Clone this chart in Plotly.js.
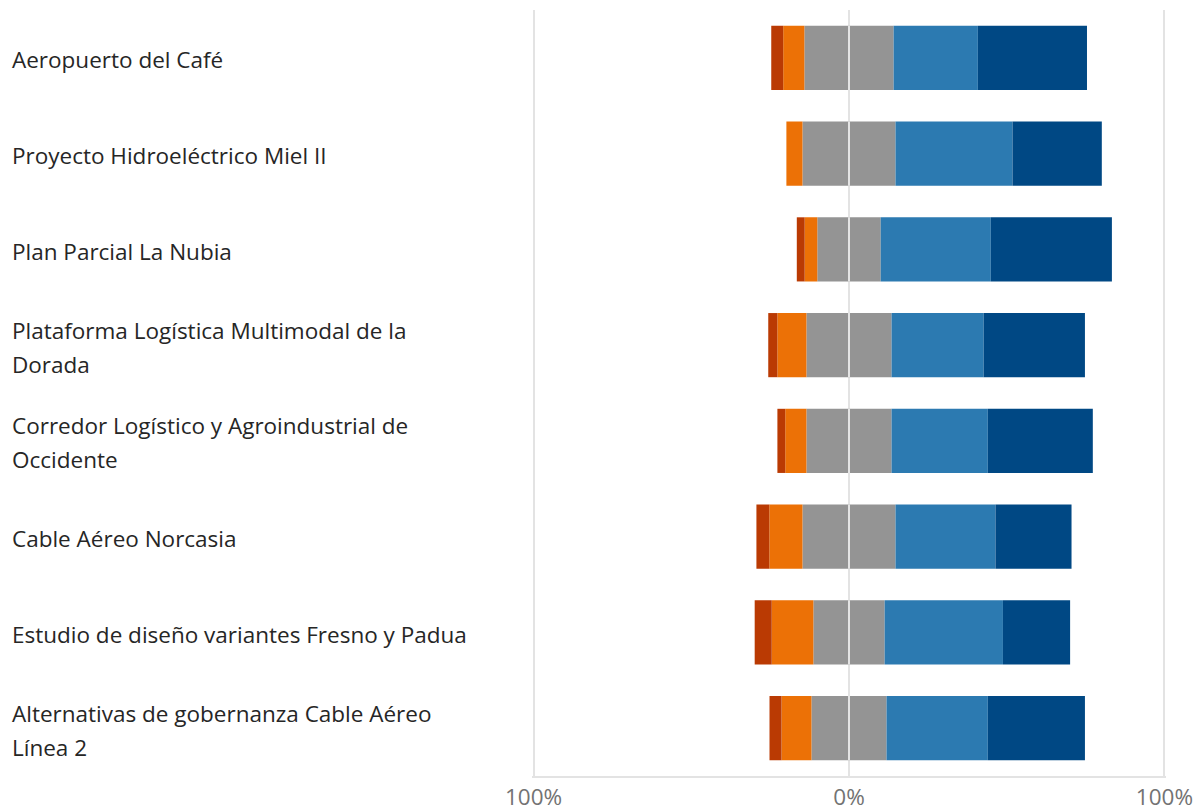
<!DOCTYPE html>
<html>
<head>
<meta charset="utf-8">
<script src="https://cdn.plot.ly/plotly-3.0.1.min.js"></script>
<style>html,body{margin:0;padding:0;background:#fff;}#chart{width:1196px;height:807px;}</style>
</head>
<body>
<div id="chart"></div>
<script>
const categories = [
  "Aeropuerto del Café",
  "Proyecto Hidroeléctrico Miel II",
  "Plan Parcial La Nubia",
  "Plataforma Logística Multimodal de la<br>Dorada",
  "Corredor Logístico y Agroindustrial de<br>Occidente",
  "Cable Aéreo Norcasia",
  "Estudio de diseño variantes Fresno y Padua",
  "Alternativas de gobernanza Cable Aéreo<br>Línea 2"
];
const muyDesfavorable = [3.8, 0, 2.5, 2.9, 2.5, 4.1, 5.4, 3.8];
const desfavorable    = [6.7, 5.1, 4.0, 9.2, 6.7, 10.5, 13.2, 9.5];
const neutral         = [28.3, 29.5, 20.1, 27.0, 27.0, 29.5, 22.6, 23.8];
const favorable       = [26.7, 37.1, 34.9, 29.2, 30.5, 31.7, 37.5, 32.1];
const muyFavorable    = [34.6, 28.3, 38.4, 32.1, 33.3, 24.1, 21.3, 30.8];
const tickVals = [-100, 0, 100];
const tickText = ["100%", "0%", "100%"];

const colors = {
  muyDes: "#BA3A03",
  des: "#EC7106",
  neu: "#949494",
  fav: "#2C7AB1",
  muyFav: "#004884"
};

const idx = categories.map((c, i) => i);
function bar(vals, color, name) {
  return { type: "bar", orientation: "h", y: idx, x: vals, name: name,
    marker: { color: color, line: { width: 0 } }, hoverinfo: "x+name" };
}
const traces = [
  bar(neutral.map(v => -v / 2), colors.neu, "Neutral"),
  bar(neutral.map(v => v / 2), colors.neu, "Neutral"),
  bar(desfavorable.map(v => -v), colors.des, "Desfavorable"),
  bar(muyDesfavorable.map(v => -v), colors.muyDes, "Muy desfavorable"),
  bar(favorable, colors.fav, "Favorable"),
  bar(muyFavorable, colors.muyFav, "Muy favorable")
];

const barHalf = 0.335;
const shapes = idx.map(i => ({
  type: "line", xref: "x", yref: "y", x0: 0, x1: 0, y0: i - barHalf, y1: i + barHalf,
  line: { color: "#ffffff", width: 1.5 }, layer: "above"
}));

const lineGap = 34;
const annotations = [];
categories.forEach((c, i) => {
  const lines = c.split("<br>");
  lines.forEach((ln, k) => {
    annotations.push({
      xref: "paper", yref: "y", x: 0, y: i, xshift: -522,
      yshift: ((lines.length - 1) / 2 - k) * lineGap - 2,
      xanchor: "left", yanchor: "middle",
      text: ln, showarrow: false, align: "left",
      font: { family: "Open Sans, sans-serif", size: 22.5, color: "#262626" }
    });
  });
});

const layout = {
  width: 1196, height: 807,
  margin: { l: 532.4, r: 30.4, t: 10, b: 31 },
  paper_bgcolor: "#ffffff", plot_bgcolor: "#ffffff",
  barmode: "relative", bargap: 0.33,
  showlegend: false,
  font: { family: "Open Sans, sans-serif" },
  xaxis: {
    range: [-100.5, 100.5], tickvals: tickVals, ticktext: tickText,
    showgrid: true, gridcolor: "#e3e3e3", gridwidth: 2, zeroline: false,
    showline: true, linecolor: "#e3e3e3", linewidth: 2,
    tickfont: { size: 22.5, color: "#737373" }, ticks: "", fixedrange: true
  },
  yaxis: {
    range: [7.5, -0.5], showticklabels: false, showgrid: false, zeroline: false,
    showline: false, ticks: "", fixedrange: true
  },
  shapes: shapes,
  annotations: annotations
};

Plotly.newPlot("chart", traces, layout, { displayModeBar: false, staticPlot: true });
</script>
</body>
</html>
